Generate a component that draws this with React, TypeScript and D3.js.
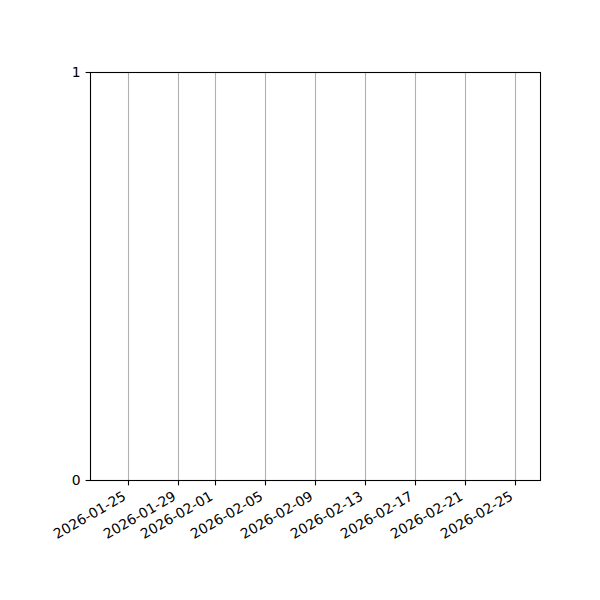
import * as d3 from "d3";
import React, { useRef, useEffect } from "react";

// empty series: the chart has no data, only the date axis
const startDate = "2026-01-22";
const endDate = "2026-02-27";
const xTickLabels = [
  "2026-01-25", "2026-01-29", "2026-02-01", "2026-02-05", "2026-02-09",
  "2026-02-13", "2026-02-17", "2026-02-21", "2026-02-25",
];
const yTicks = [0, 1];

const W = 600, H = 600;
const m = { l: 90, r: 60, t: 72, b: 120 };
const font = "'DejaVu Sans', sans-serif";
const lw = 1.1;

// snap to the pixel centre like matplotlib does
const snap = (v: number) => Math.round(v) + 0.5;

const App: React.FC = () => {
  const gx = useRef<SVGGElement>(null);
  const gy = useRef<SVGGElement>(null);

  const parse = d3.utcParse("%Y-%m-%d");
  const x = d3.scaleUtc([parse(startDate)!, parse(endDate)!], [m.l, W - m.r]);
  const y = d3.scaleLinear([0, 1], [H - m.b, m.t]);
  const tickDates = xTickLabels.map((s) => parse(s)!);

  useEffect(() => {
    if (!gx.current) return;
    const g = d3.select(gx.current);
    g.selectAll("*").remove();
    const ax = d3.axisBottom(x).tickValues(tickDates).tickSize(4.9).tickPadding(0).offset(0)
      .tickFormat((d) => d3.utcFormat("%Y-%m-%d")(d as Date));
    g.call(ax);
    g.select(".domain").remove();
    g.selectAll<SVGGElement, Date>(".tick").attr("transform", (d) => `translate(${snap(x(d))},0)`);
    g.selectAll(".tick line").attr("stroke", "#000").attr("stroke-width", lw);
    g.selectAll(".tick text")
      .attr("font-family", font).attr("font-size", 13.9).attr("fill", "#000")
      .attr("text-anchor", "end").attr("dy", null).attr("y", 0)
      .attr("transform", "translate(-1.5, 18.5) rotate(-30)");
  }, []);

  useEffect(() => {
    if (!gy.current) return;
    const g = d3.select(gy.current);
    g.selectAll("*").remove();
    g.call(d3.axisLeft(y).tickValues(yTicks).tickSize(4.9).tickPadding(4.9).offset(0).tickFormat(d3.format("d")));
    g.select(".domain").remove();
    g.selectAll<SVGGElement, number>(".tick").attr("transform", (d) => `translate(0,${snap(y(d))})`);
    g.selectAll(".tick line").attr("stroke", "#000").attr("stroke-width", lw);
    g.selectAll(".tick text").attr("font-family", font).attr("font-size", 13.9).attr("fill", "#000");
  }, []);

  return (
    <svg width={W} height={H} style={{ position: "absolute", left: 0, top: 0, background: "#fff" }}>
      <rect x={0} y={0} width={W} height={H} fill="#fff" />
      {tickDates.map((d, i) => (
        <line key={i} x1={snap(x(d))} x2={snap(x(d))} y1={m.t} y2={H - m.b} stroke="#b0b0b0" strokeWidth={lw} />
      ))}
      <g ref={gx} transform={`translate(0, ${snap(H - m.b)})`} />
      <g ref={gy} transform={`translate(${snap(m.l)}, 0)`} />
      <rect x={snap(m.l)} y={snap(m.t)} width={W - m.l - m.r} height={H - m.t - m.b} fill="none" stroke="#000" strokeWidth={lw} />
    </svg>
  );
};

export default App;
